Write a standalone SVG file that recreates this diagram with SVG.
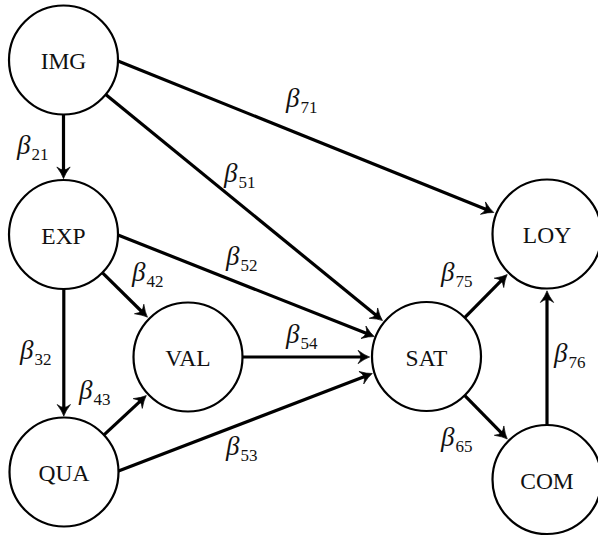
<svg xmlns="http://www.w3.org/2000/svg" width="598" height="536" viewBox="0 0 598 536">
  <style>
    .node circle { fill: #ffffff; stroke: #000000; stroke-width: 2.2; }
    .node text { font-family: "Liberation Serif", "Times New Roman", serif; font-size: 23.5px; text-anchor: middle; fill: #111111; }
    .edge { stroke: #000000; stroke-width: 3.2; fill: none; marker-end: url(#arrow); }
    .lbl { font-family: "Liberation Serif", "Times New Roman", serif; font-style: italic; font-size: 27px; fill: #111111; }
    .lbl tspan { font-style: normal; font-size: 17px; }
  </style>
  <defs>
    <!-- curved-barb arrowhead; the tip sits 8 units beyond the line end -->
    <marker id="arrow" markerUnits="userSpaceOnUse" markerWidth="20" markerHeight="20" viewBox="-22 -10 24 20" refX="-8" refY="0" orient="auto" overflow="visible">
      <path d="M0,0 Q-6,-2 -14,-8 Q-10.5,-3.5 -10.5,0 Q-10.5,3.5 -14,8 Q-6,2 0,0 Z" fill="#000000" stroke="#000000" stroke-width="0.8" stroke-linejoin="round"/>
    </marker>
  </defs>

  <rect width="598" height="536" fill="#ffffff"/>

  <g id="connectors">
    <line class="edge" x1="63.5" y1="114.5" x2="63.5" y2="172"/>
    <line class="edge" x1="63.8" y1="289" x2="63.8" y2="409.5"/>
    <line class="edge" x1="118" y1="61" x2="487.6" y2="210"/>
    <line class="edge" x1="105.7" y1="94.5" x2="377.3" y2="316.3"/>
    <line class="edge" x1="102.3" y1="272.7" x2="142.7" y2="312.5"/>
    <line class="edge" x1="118" y1="235" x2="368.1" y2="334.1"/>
    <line class="edge" x1="242.5" y1="357" x2="363" y2="357"/>
    <line class="edge" x1="104" y1="434.9" x2="141.4" y2="400.1"/>
    <line class="edge" x1="118.5" y1="471" x2="366" y2="375.9"/>
    <line class="edge" x1="464.7" y1="317.6" x2="502.5" y2="279.3"/>
    <line class="edge" x1="464.6" y1="395.4" x2="502.6" y2="434.2"/>
    <line class="edge" x1="547" y1="425" x2="547" y2="297.5"/>
  </g>

  <g id="labels">
    <text class="lbl" x="286" y="107">β<tspan dx="1" dy="6">71</tspan></text>
    <text class="lbl" x="17" y="154">β<tspan dx="1" dy="6">21</tspan></text>
    <text class="lbl" x="224" y="182">β<tspan dx="1" dy="6">51</tspan></text>
    <text class="lbl" x="226" y="265">β<tspan dx="1" dy="6">52</tspan></text>
    <text class="lbl" x="132" y="281">β<tspan dx="1" dy="6">42</tspan></text>
    <text class="lbl" x="20" y="359">β<tspan dx="1" dy="6">32</tspan></text>
    <text class="lbl" x="79" y="399">β<tspan dx="1" dy="6">43</tspan></text>
    <text class="lbl" x="286" y="343">β<tspan dx="1" dy="6">54</tspan></text>
    <text class="lbl" x="226" y="455">β<tspan dx="1" dy="6">53</tspan></text>
    <text class="lbl" x="441" y="281">β<tspan dx="1" dy="6">75</tspan></text>
    <text class="lbl" x="554" y="362">β<tspan dx="1" dy="6">76</tspan></text>
    <text class="lbl" x="441" y="446">β<tspan dx="1" dy="6">65</tspan></text>
  </g>

  <g id="IMG" class="node"><circle cx="63.5" cy="60" r="54.5"/><text x="63.5" y="69">IMG</text></g>
  <g id="EXP" class="node"><circle cx="63.5" cy="234.5" r="54.5"/><text x="63.5" y="243.5">EXP</text></g>
  <g id="QUA" class="node"><circle cx="64" cy="472" r="54.5"/><text x="64" y="481">QUA</text></g>
  <g id="VAL" class="node"><circle cx="188" cy="357" r="54.5"/><text x="188" y="366">VAL</text></g>
  <g id="SAT" class="node"><circle cx="426.5" cy="356.5" r="54.5"/><text x="426.5" y="365.5">SAT</text></g>
  <g id="LOY" class="node"><circle cx="547" cy="234" r="54.5"/><text x="547" y="243">LOY</text></g>
  <g id="COM" class="node"><circle cx="547" cy="479.5" r="54.5"/><text x="547" y="488.5">COM</text></g>
</svg>
